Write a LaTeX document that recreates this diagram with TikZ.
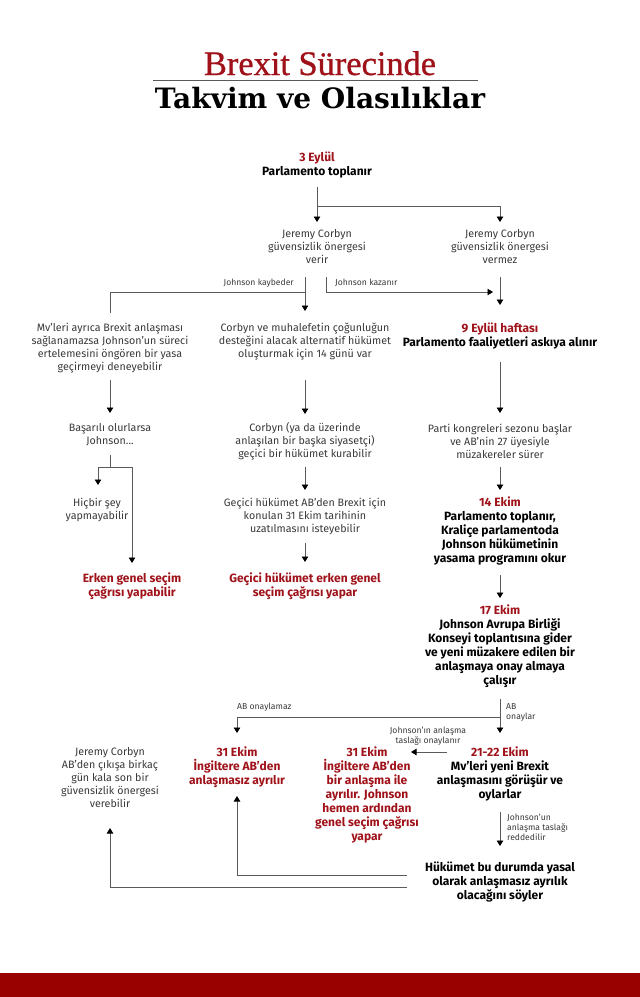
\documentclass[tikz,border=0pt]{standalone}
\usepackage{fontspec}
\setmainfont{Fira Sans}
\newfontfamily\titleserif{Liberation Serif}[FakeBold=0.8]
\newfontfamily\slabfont{DejaVu Serif}
\usetikzlibrary{arrows.meta}
\definecolor{bbcred}{HTML}{A0121A}
\definecolor{barred}{HTML}{990000}
\definecolor{txtgray}{HTML}{3A3A3A}
\definecolor{linegray}{HTML}{5A5A5A}
\tikzset{
  txt/.style={inner sep=0pt, align=center, text=txtgray, font=\fontsize{10.7}{13}\selectfont},
  btxt/.style={inner sep=0pt, align=center, text=black, font=\fontsize{12}{14}\selectfont\bfseries},
  rtxt/.style={btxt, text=bbcred},
  lab/.style={inner sep=0pt, text=txtgray, font=\fontsize{8.6}{10}\selectfont},
  conn/.style={draw=linegray, line width=0.9pt},
  arr/.style={conn, -{Triangle[width=6.5pt,length=5.5pt,color=black]}}
}
\newcommand{\rd}[1]{{\color{bbcred}#1}}
\begin{document}
\begin{tikzpicture}[x=1pt,y=-1pt]
\useasboundingbox (0,0) rectangle (640,997);
\fill[white] (0,0) rectangle (640,997);
\fill[barred] (0,973) rectangle (640,997);
% title
\node[anchor=base, inner sep=0pt, text=bbcred] (title1) at (320,75) {\resizebox{232pt}{!}{\titleserif Brexit Sürecinde}};
\draw[draw=linegray, line width=0.8pt] (153,80) -- (478,80);
\node[anchor=base, inner sep=0pt, text=black] (title2) at (320,108) {\resizebox{330pt}{!}{\slabfont\bfseries Takvim ve Olasılıklar}};
% nodes
\node[btxt] (n3) at (317,165) {\rd{3 Eylül}\\Parlamento toplanır};
\node[txt] (jcA) at (317,247) {Jeremy Corbyn\\güvensizlik önergesi\\verir};
\node[txt] (jcB) at (500,247) {Jeremy Corbyn\\güvensizlik önergesi\\vermez};
\node[txt] (mvs) at (110,348.5) {Mv’leri ayrıca Brexit anlaşması\\sağlanamazsa Johnson’un süreci\\ertelemesini öngören bir yasa\\geçirmeyi deneyebilir};
\node[txt] (alt) at (305,341.5) {Corbyn ve muhalefetin çoğunluğun\\desteğini alacak alternatif hükümet\\oluşturmak için 14 günü var};
\node[btxt] (sep9) at (500,336.5) {\rd{9 Eylül haftası}\\Parlamento faaliyetleri askıya alınır};
\node[txt] (basarili) at (110,435) {Başarılı olurlarsa\\Johnson...};
\node[txt] (gecici) at (305,441) {Corbyn (ya da üzerinde\\anlaşılan bir başka siyasetçi)\\geçici bir hükümet kurabilir};
\node[txt] (parti) at (500,441) {Parti kongreleri sezonu başlar\\ve AB’nin 27 üyesiyle\\müzakereler sürer};
\node[txt] (hicbir) at (97,509.5) {Hiçbir şey\\yapmayabilir};
\node[rtxt] (erken) at (132,586.5) {Erken genel seçim\\çağrısı yapabilir};
\node[txt] (uzat) at (305,516) {Geçici hükümet AB'den Brexit için\\konulan 31 Ekim tarihinin\\uzatılmasını isteyebilir};
\node[rtxt] (gecErken) at (305,586) {Geçici hükümet erken genel\\seçim çağrısı yapar};
\node[btxt] (ekim14) at (500,531) {\rd{14 Ekim}\\Parlamento toplanır,\\Kraliçe parlamentoda\\Johnson hükümetinin\\yasama programını okur};
\node[btxt] (ekim17) at (500,646.5) {\rd{17 Ekim}\\Johnson Avrupa Birliği\\Konseyi toplantısına gider\\ve yeni müzakere edilen bir\\anlaşmaya onay almaya\\çalışır};
\node[txt] (corbynSon) at (110,777.5) {Jeremy Corbyn\\AB’den çıkışa birkaç\\gün kala son bir\\güvensizlik önergesi\\verebilir};
\node[rtxt] (anlasmasiz) at (237,767) {31 Ekim\\İngiltere AB’den\\anlaşmasız ayrılır};
\node[rtxt] (anlasmali) at (367,794.5) {31 Ekim\\İngiltere AB’den\\bir anlaşma ile\\ayrılır. Johnson\\hemen ardından\\genel seçim çağrısı\\yapar};
\node[btxt] (ekim2122) at (500,774) {\rd{21-22 Ekim}\\Mv’leri yeni Brexit\\anlaşmasını görüşür ve\\oylarlar};
\node[btxt] (hukumet) at (500,882) {Hükümet bu durumda yasal\\olarak anlaşmasız ayrılık\\olacağını söyler};
% labels
\node[lab, anchor=east] (lkaybeder) at (294,283) {Johnson kaybeder};
\node[lab, anchor=west] (lkazanir) at (335,283) {Johnson kazanır};
\node[lab, anchor=west] (lonaylamaz) at (237,707) {AB onaylamaz};
\node[lab, anchor=west, align=left] (lonaylar) at (506,712) {AB\\onaylar};
\node[lab, align=center] (lonaylanir) at (428,736.5) {Johnson’ın anlaşma\\taslağı onaylanır};
\node[lab, anchor=west, align=left] (lreddedilir) at (507,827) {Johnson’un\\anlaşma taslağı\\reddedilir};
% connector points
\coordinate (p1) at (317,187);
\coordinate (p1b) at (317,206);
\coordinate (q1) at (317,222);
\coordinate (q2) at (500,222);
\coordinate (p3) at (305,277);
\coordinate (p3b) at (305,292);
\coordinate (q3) at (305,311);
\coordinate (q4) at (110,313);
\coordinate (p5) at (326,277);
\coordinate (q5) at (493,292);
\coordinate (p6) at (500,277);
\coordinate (q6) at (500,305);
\coordinate (p7) at (110,380);
\coordinate (q7) at (110,413);
\coordinate (p8) at (305,380);
\coordinate (q8) at (305,414);
\coordinate (p9) at (500,362);
\coordinate (q9) at (500,413);
\coordinate (p10) at (110,455);
\coordinate (j10) at (110,467);
\coordinate (j10a) at (98,467);
\coordinate (j10b) at (132,467);
\coordinate (q10a) at (98,485);
\coordinate (q10b) at (132,563);
\coordinate (p11) at (305,467);
\coordinate (q11) at (305,490);
\coordinate (p12) at (305,543);
\coordinate (q12) at (305,562);
\coordinate (p13) at (500,467);
\coordinate (q13) at (500,490);
\coordinate (p14) at (500,575);
\coordinate (q14) at (500,598);
\coordinate (p15) at (500,699);
\coordinate (p15b) at (500,717);
\coordinate (q15) at (500,733);
\coordinate (q16) at (237,733);
\coordinate (p17) at (447,752);
\coordinate (q17) at (411,752);
\coordinate (p18) at (500,812);
\coordinate (q18) at (500,846);
\coordinate (p19) at (407,875);
\coordinate (q19) at (237,796);
\coordinate (p20) at (407,887);
\coordinate (q20) at (110,828);
% connectors
\draw[arr] (p1) -- (q1);
\draw[arr] (p1b) -| (q2);
\draw[arr] (p3) -- (q3);
\draw[conn] (p3b) -| (q4);
\draw[arr] (p5) |- (q5);
\draw[arr] (p6) -- (q6);
\draw[arr] (p7) -- (q7);
\draw[arr] (p8) -- (q8);
\draw[arr] (p9) -- (q9);
\draw[conn] (p10) -- (j10);
\draw[conn] (j10a) -- (j10b);
\draw[arr] (j10a) -- (q10a);
\draw[arr] (j10b) -- (q10b);
\draw[arr] (p11) -- (q11);
\draw[arr] (p12) -- (q12);
\draw[arr] (p13) -- (q13);
\draw[arr] (p14) -- (q14);
\draw[arr] (p15) -- (q15);
\draw[arr] (p15b) -| (q16);
\draw[arr] (p17) -- (q17);
\draw[arr] (p18) -- (q18);
\draw[arr] (p19) -| (q19);
\draw[arr] (p20) -| (q20);
\end{tikzpicture}
\end{document}
